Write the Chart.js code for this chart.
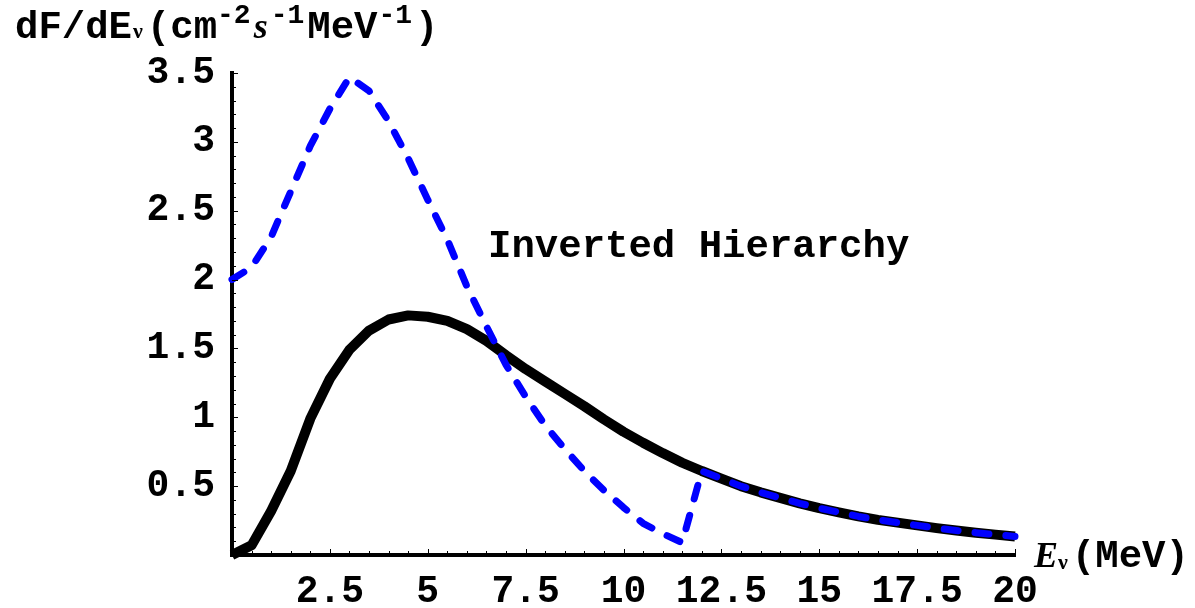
<!DOCTYPE html>
<html><head><meta charset="utf-8">
<script src="https://cdn.jsdelivr.net/npm/chart.js@4.4.1/dist/chart.umd.min.js"></script>
<style>html,body{margin:0;padding:0;background:#fff;overflow:hidden}canvas{display:block}</style>
</head><body>
<canvas id="c" width="1195" height="608"></canvas>
<script>
// ---- data ----
const blackEnergy = [0,0.5,1,1.5,2,2.5,3,3.5,4,4.5,5,5.5,6,6.5,7,7.5,8,8.5,9,9.5,10,10.5,11,11.5,12,12.5,13,13.5,14,14.5,15,15.5,16,16.5,17,17.5,18,18.5,19,19.5,20];
const blackFlux   = [0,0.07,0.32,0.61,0.99,1.28,1.49,1.63,1.71,1.74,1.73,1.70,1.64,1.555,1.45,1.35,1.26,1.17,1.08,0.985,0.895,0.815,0.74,0.67,0.61,0.555,0.50,0.455,0.415,0.375,0.34,0.31,0.28,0.255,0.235,0.215,0.195,0.178,0.162,0.148,0.135];
const blueEnergy  = [0,0.5,1,1.5,2,2.5,3,3.5,4,4.5,5,5.5,6,6.5,7,7.5,8,8.5,9,9.5,10,10.5,11,11.5,12,12.5,13,13.5,14,14.5,15,15.5,16,16.5,17,17.5,18,18.5,19,19.5,20];
const blueFlux    = [2.00,2.09,2.31,2.64,2.97,3.24,3.47,3.37,3.15,2.88,2.58,2.29,1.95,1.66,1.38,1.15,0.94,0.77,0.61,0.47,0.345,0.23,0.155,0.09,0.61,0.555,0.50,0.455,0.415,0.375,0.34,0.31,0.28,0.255,0.235,0.215,0.195,0.178,0.162,0.148,0.135];
const xTickValues = [0,2.5,5,7.5,10,12.5,15,17.5,20];
const yTickValues = [0,0.5,1,1.5,2,2.5,3,3.5];
const annotationText = 'Inverted Hierarchy';
const annotationAt = [6.54, 2.164];

const MONO = '"Liberation Mono","Courier New",monospace';
const SERIF = '"Liberation Serif","Times New Roman",serif';

function pts(xs, ys){ return xs.map((x,i)=>({x:x, y:ys[i]})); }

function drawRich(ctx, x, y, segs){
  ctx.textAlign = 'left';
  ctx.textBaseline = 'alphabetic';
  for (const s of segs){
    ctx.font = s.font;
    ctx.fillText(s.text, x + (s.dx||0), y + (s.dy||0));
    x += ctx.measureText(s.text).width + (s.dx||0) + (s.after||0);
  }
}

const decor = {
  id: 'decor',
  afterDraw(chart){
    const ctx = chart.ctx, xs = chart.scales.x, ys = chart.scales.y;
    const a = chart.chartArea;
    ctx.save();
    // inward ticks
    ctx.strokeStyle = '#000';
    ctx.lineWidth = 1;
    for (let v = 0; v <= 20.001; v += 0.5){
      const px = Math.round(xs.getPixelForValue(v)) + 0.5;
      const major = Math.abs(v/2.5 - Math.round(v/2.5)) < 1e-6;
      const len = major ? 6 : 4;
      ctx.beginPath(); ctx.moveTo(px, a.bottom); ctx.lineTo(px, a.bottom - len); ctx.stroke();
    }
    for (let v = 0; v <= 3.5001; v += 0.1){
      const py = Math.round(ys.getPixelForValue(v)) + 0.5;
      const major = Math.abs(v/0.5 - Math.round(v/0.5)) < 1e-6;
      const len = major ? 6 : 4;
      ctx.beginPath(); ctx.moveTo(a.left, py); ctx.lineTo(a.left + len, py); ctx.stroke();
    }
    ctx.fillStyle = '#000';
    // y-axis title
    drawRich(ctx, 15, 38, [
      {text:'dF/dE', font:'bold 39px '+MONO},
      {text:'\u03BD', font:'bold 22px '+SERIF, dx:1, after:4},
      {text:'(cm', font:'bold 39px '+MONO},
      {text:'-2', font:'bold 28px '+MONO, dy:-15, after:3},
      {text:'s', font:'italic bold 36px '+SERIF, after:3},
      {text:'-1', font:'bold 28px '+MONO, dy:-15, after:3},
      {text:'MeV', font:'bold 39px '+MONO, after:1},
      {text:'-1', font:'bold 28px '+MONO, dy:-15, after:3},
      {text:')', font:'bold 39px '+MONO}
    ]);
    // x-axis title
    drawRich(ctx, 1034, 567, [
      {text:'E', font:'italic bold 36px '+SERIF},
      {text:'\u03BD', font:'bold 22px '+SERIF, dy:2, after:4},
      {text:'(MeV)', font:'bold 39px '+MONO}
    ]);
    // annotation
    ctx.font = 'bold 39px '+MONO;
    ctx.textAlign = 'left';
    ctx.textBaseline = 'alphabetic';
    ctx.fillText(annotationText, xs.getPixelForValue(annotationAt[0]), ys.getPixelForValue(annotationAt[1]));
    ctx.restore();
  }
};

new Chart(document.getElementById('c'), {
  type: 'scatter',
  data: {
    datasets: [
      { data: pts(blueEnergy, blueFlux), showLine: true, borderColor: '#0000ff', borderWidth: 7,
        borderDash: [14, 17], borderCapStyle: 'round', borderJoinStyle: 'round', tension: 0,
        pointRadius: 0, fill: false, clip: false },
      { data: pts(blackEnergy, blackFlux), showLine: true, borderColor: '#000', borderWidth: 10,
        borderCapStyle: 'butt', borderJoinStyle: 'round', tension: 0,
        pointRadius: 0, fill: false, clip: false }
    ]
  },
  options: {
    responsive: false, animation: false, devicePixelRatio: 1,
    layout: { padding: { left: 0, top: 73, right: 180, bottom: 0 } },
    plugins: { legend: { display: false }, tooltip: { enabled: false } },
    events: [],
    scales: {
      x: {
        type: 'linear', min: 0, max: 20,
        afterBuildTicks: s => { s.ticks = xTickValues.map(v => ({value: v})); },
        afterFit: s => { s.height = 53; },
        grid: { display: false },
        border: { display: true, width: 4, color: '#000' },
        ticks: { color: '#000', padding: 7, maxRotation: 0, autoSkip: false,
          font: { family: MONO, size: 38, weight: 'bold', lineHeight: 1.2 },
          callback: v => v === 0 ? '' : String(v) }
      },
      y: {
        type: 'linear', min: 0, max: 3.5,
        afterBuildTicks: s => { s.ticks = yTickValues.map(v => ({value: v})); },
        afterFit: s => { s.width = 232; },
        grid: { display: false },
        border: { display: true, width: 4, color: '#000' },
        ticks: { color: '#000', padding: 9, autoSkip: false,
          font: { family: MONO, size: 38, weight: 'bold', lineHeight: 1.2 },
          callback: v => v === 0 ? '' : String(v) }
      }
    }
  },
  plugins: [decor]
});
</script>
</body></html>
